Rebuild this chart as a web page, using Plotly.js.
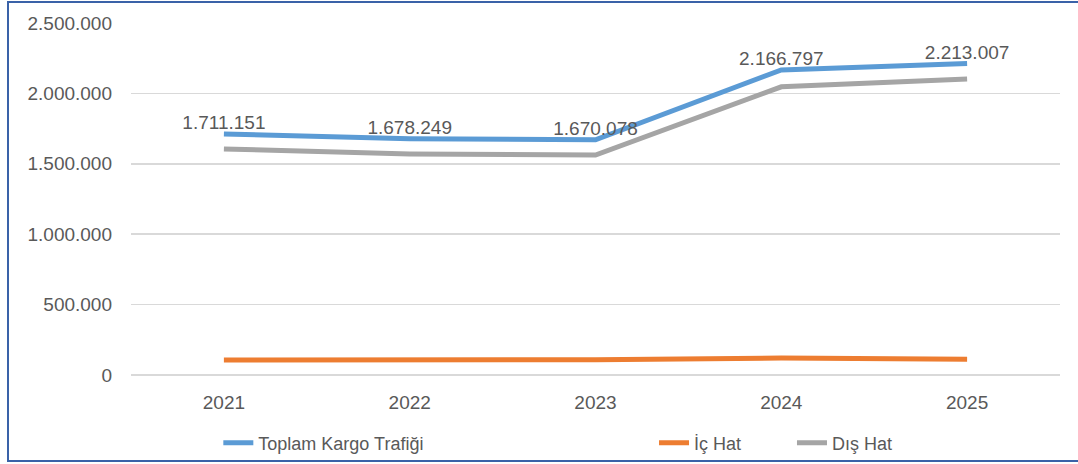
<!DOCTYPE html>
<html>
<head>
<meta charset="utf-8">
<script src="https://cdn.plot.ly/plotly-3.0.1.min.js"></script>
<style>
  html, body { margin: 0; padding: 0; background: #ffffff; }
  #wrap { position: relative; width: 1078px; height: 464px; overflow: hidden; }
  #chart { width: 1078px; height: 464px; }
  #frame { position: absolute; left: 7px; top: 1px; width: 1090px; height: 461px;
           border: 2px solid #3A62A8; box-sizing: border-box; pointer-events: none; }
</style>
</head>
<body>
<div id="wrap">
  <div id="chart"></div>
  <div id="frame"></div>
</div>
<script>
// Data
const years = ['2021', '2022', '2023', '2024', '2025'];
const toplamKargo = [1711151, 1678249, 1670078, 2166797, 2213007];
const icHat = [106000, 108000, 108000, 120000, 111000];
const disHat = [1605000, 1570000, 1562000, 2047000, 2102000];
const yTickVals = [0, 500000, 1000000, 1500000, 2000000, 2500000];
const seriesNames = ['Toplam Kargo Trafiği', 'İç Hat', 'Dış Hat'];

const FONT = 'Liberation Sans, Arial, sans-serif';
const TXT = '#595959';

const traces = [
  {
    x: years, y: disHat, name: seriesNames[2], type: 'scatter', mode: 'lines',
    line: { color: '#A5A5A5', width: 5 }, legend: 'legend3', hoverinfo: 'skip'
  },
  {
    x: years, y: icHat, name: seriesNames[1], type: 'scatter', mode: 'lines',
    line: { color: '#ED7D31', width: 5 }, legend: 'legend2', hoverinfo: 'skip'
  },
  {
    x: years, y: toplamKargo, name: seriesNames[0], type: 'scatter', mode: 'lines+text',
    line: { color: '#5B9BD5', width: 5 }, legend: 'legend',
    texttemplate: '%{y:,}', textposition: 'top center',
    textfont: { family: FONT, size: 19, color: TXT }, hoverinfo: 'skip'
  }
];

const legendBase = {
  orientation: 'h', yanchor: 'middle', y: -0.193, xanchor: 'left',
  font: { family: FONT, size: 18, color: TXT }, bgcolor: 'rgba(0,0,0,0)',
  traceorder: 'normal'
};

const layout = {
  width: 1078, height: 464,
  margin: { l: 131, r: 18, t: 23, b: 89, autoexpand: false },
  paper_bgcolor: '#ffffff', plot_bgcolor: '#ffffff',
  separators: ',.',
  showlegend: true,
  font: { family: FONT, size: 19, color: TXT },
  xaxis: {
    type: 'category', range: [-0.5, 4.5], showgrid: false, zeroline: false,
    showline: false, ticks: '', ticklabelstandoff: 14, automargin: false,
    tickfont: { family: FONT, size: 19, color: TXT }, fixedrange: true
  },
  yaxis: {
    range: [0, 2500000], tickvals: yTickVals, tickformat: ',d',
    showgrid: true, gridcolor: '#D9D9D9', gridwidth: 1.5,
    zeroline: true, zerolinecolor: '#D9D9D9', zerolinewidth: 1.5,
    showline: false, ticks: '', ticklabelstandoff: 18, automargin: false,
    tickfont: { family: FONT, size: 19, color: TXT }, fixedrange: true
  },
  legend: Object.assign({}, legendBase, { x: 0.094 }),
  legend2: Object.assign({}, legendBase, { x: 0.563 }),
  legend3: Object.assign({}, legendBase, { x: 0.7115 })
};

Plotly.newPlot('chart', traces, layout, { displayModeBar: false, staticPlot: true });
</script>
</body>
</html>
